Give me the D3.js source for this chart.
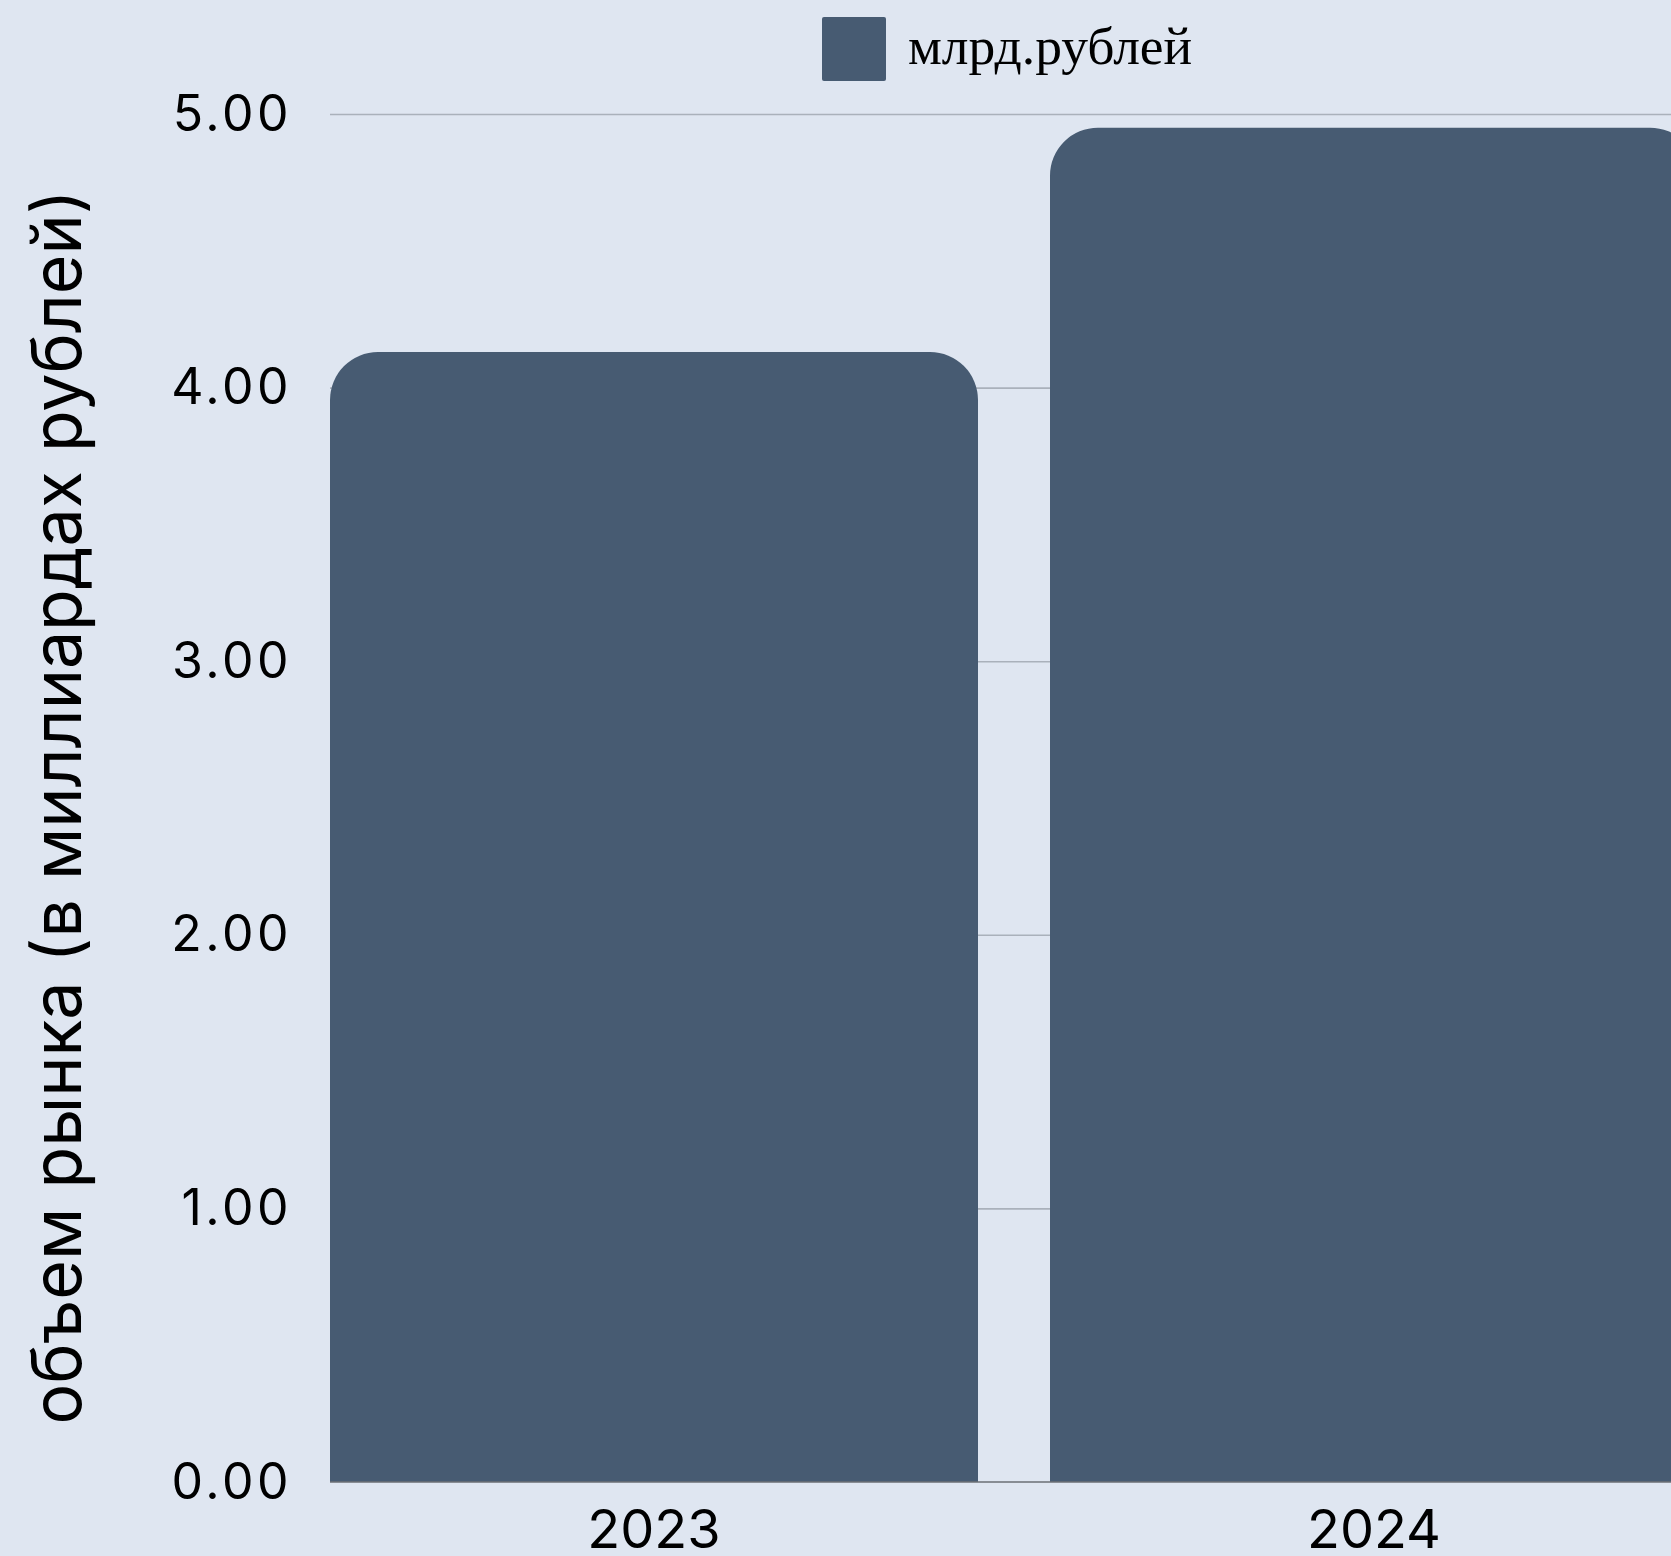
<!DOCTYPE html>
<html>
<head>
<meta charset="utf-8">
<script src="https://cdn.jsdelivr.net/npm/d3@7"></script>
<style>
    body { margin: 0; background: #dfe6f1; }
    svg { display: block; }
</style>
</head>
<body>
<script>
    // данные
    var years = ["2023", "2024"];
    var values = [4.13, 4.95];
    var yTicks = [0, 1, 2, 3, 4, 5];
    var seriesName = "млрд.рублей";
    var yTitle = "объем рынка (в миллиардах рублей)";

    var width = 1671, height = 1556;
    var left = 330, top0 = 114, bottom0 = 1482;
    var radius = 48;

    var svg = d3.select("body").append("svg")
        .attr("width", width)
        .attr("height", height);

    svg.append("rect")
        .attr("width", width).attr("height", height)
        .attr("fill", "#dfe6f1");

    var x = d3.scaleBand()
        .domain(years)
        .range([left, 1698])
        .paddingInner(0.1)
        .paddingOuter(0);

    var y = d3.scaleLinear()
        .domain([0, 5])
        .range([bottom0, top0]);

    // сетка
    var grid = svg.append("g")
        .attr("transform", "translate(" + left + ",0)")
        .call(d3.axisLeft(y).tickValues(yTicks.slice(1)).tickSize(-(width - left)).tickFormat(""));
    grid.select(".domain").remove();
    grid.selectAll("line").attr("stroke", "#aab1bb").attr("stroke-width", 1.6);

    // столбцы со скругленным верхом
    function barPath(d, i) {
        var x0 = x(years[i]), w = x.bandwidth();
        var yt = y(d), yb = y(0);
        var r = Math.min(radius, (yb - yt));
        return "M" + x0 + "," + yb +
            "L" + x0 + "," + (yt + r) +
            "A" + r + "," + r + " 0 0 1 " + (x0 + r) + "," + yt +
            "L" + (x0 + w - r) + "," + yt +
            "A" + r + "," + r + " 0 0 1 " + (x0 + w) + "," + (yt + r) +
            "L" + (x0 + w) + "," + yb + "Z";
    }

    svg.selectAll(".bar")
        .data(values)
        .enter()
        .append("path")
        .attr("class", "bar")
        .attr("d", barPath)
        .attr("fill", "#475b72");

    // нулевая линия
    svg.append("line")
        .attr("x1", left).attr("x2", width)
        .attr("y1", y(0)).attr("y2", y(0))
        .attr("stroke", "#6b6f75").attr("stroke-width", 1.6);

    // ось Y
    var yAxis = svg.append("g")
        .attr("transform", "translate(" + left + ",0)")
        .call(d3.axisLeft(y).tickValues(yTicks).tickFormat(d3.format(".2f")).tickSize(0).tickPadding(38));
    yAxis.select(".domain").remove();
    yAxis.selectAll("text")
        .attr("font-family", "Inter, sans-serif")
        .attr("font-size", 50)
        .attr("letter-spacing", 3.5)
        .attr("fill", "#000");

    // ось X
    var xAxis = svg.append("g")
        .attr("transform", "translate(0," + bottom0 + ")")
        .call(d3.axisBottom(x).tickSize(0).tickPadding(28));
    xAxis.select(".domain").remove();
    xAxis.selectAll("text")
        .attr("font-family", "Inter, sans-serif")
        .attr("font-size", 54)
        .attr("fill", "#000");

    // подпись оси Y
    svg.append("text")
        .attr("transform", "translate(56,807) rotate(-90)")
        .attr("text-anchor", "middle")
        .attr("dominant-baseline", "central")
        .attr("font-family", "Inter, sans-serif")
        .attr("font-size", 68)
        .attr("fill", "#000")
        .text(yTitle);

    // легенда
    var legend = svg.append("g").attr("transform", "translate(822,17)");
    legend.append("rect")
        .attr("width", 64).attr("height", 64)
        .attr("rx", 2)
        .attr("fill", "#475b72");
    legend.append("text")
        .attr("x", 86).attr("y", 47)
        .attr("font-family", "Liberation Serif, serif")
        .attr("font-size", 53.5)
        .attr("fill", "#000")
        .text(seriesName);
</script>
</body>
</html>
